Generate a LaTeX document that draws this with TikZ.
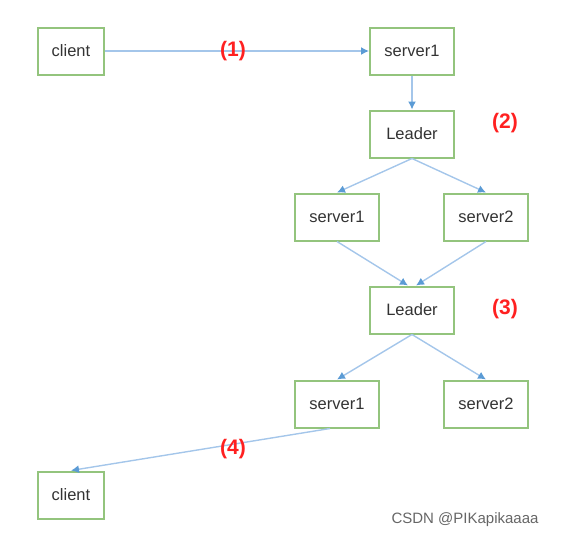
\documentclass[tikz,border=0pt]{standalone}
\usepackage{fontspec}
\setmainfont{Liberation Sans}
\usepackage{xcolor}
\usetikzlibrary{arrows.meta}
\definecolor{boxgreen}{HTML}{93C47D}
\definecolor{lineblue}{HTML}{A4C6EA}
\definecolor{tipblue}{HTML}{5B9BD5}
\definecolor{stepred}{HTML}{FF2020}
\tikzset{
  box/.style={draw=boxgreen,line width=2pt,minimum height=47pt,text=black!80,font=\fontsize{16.5}{19}\selectfont},
  clientbox/.style={box,minimum width=66pt},
  serverbox/.style={box,minimum width=84pt},
  msg/.style={draw=lineblue,line width=1.4pt,-{Latex[length=8pt,width=8pt,color=tipblue]}},
  steplabel/.style={text=stepred,font=\fontsize{21}{24}\selectfont\bfseries}
}
\begin{document}
\begin{tikzpicture}[x=1pt,y=-1pt]
\useasboundingbox (0,0) rectangle (572,538);
\node[clientbox] (c1) at (71,51) {client};
\node[serverbox] (s0) at (412,51) {server1};
\node[serverbox] (l1) at (412,134) {Leader};
\node[serverbox] (s1a) at (337,217) {server1};
\node[serverbox] (s2a) at (486,217) {server2};
\node[serverbox] (l2) at (412,310) {Leader};
\node[serverbox] (s1b) at (337,404) {server1};
\node[serverbox] (s2b) at (486,404) {server2};
\node[clientbox] (c2) at (71,495) {client};
\draw[msg] (c1) -- (s0);
\draw[msg] (s0) -- (l1);
\draw[msg] (l1.south) -- (s1a.north);
\draw[msg] (l1.south) -- (s2a.north);
\draw[msg] (s1a.south) -- ([xshift=-4pt]l2.north);
\draw[msg] (s2a.south) -- ([xshift=4pt]l2.north);
\draw[msg] (l2.south) -- (s1b.north);
\draw[msg] (l2.south) -- (s2b.north);
\draw[msg] ([xshift=-7pt]s1b.south) -- (c2.north);
\node[steplabel] (t1) at (233,51) {(1)};
\node[steplabel] (t2) at (505,123) {(2)};
\node[steplabel] (t3) at (505,309) {(3)};
\node[steplabel] (t4) at (233,449) {(4)};
\node[text=black!60,font=\fontsize{15}{18}\selectfont] (mark) at (465,520) {CSDN @PIKapikaaaa};
\end{tikzpicture}
\end{document}
